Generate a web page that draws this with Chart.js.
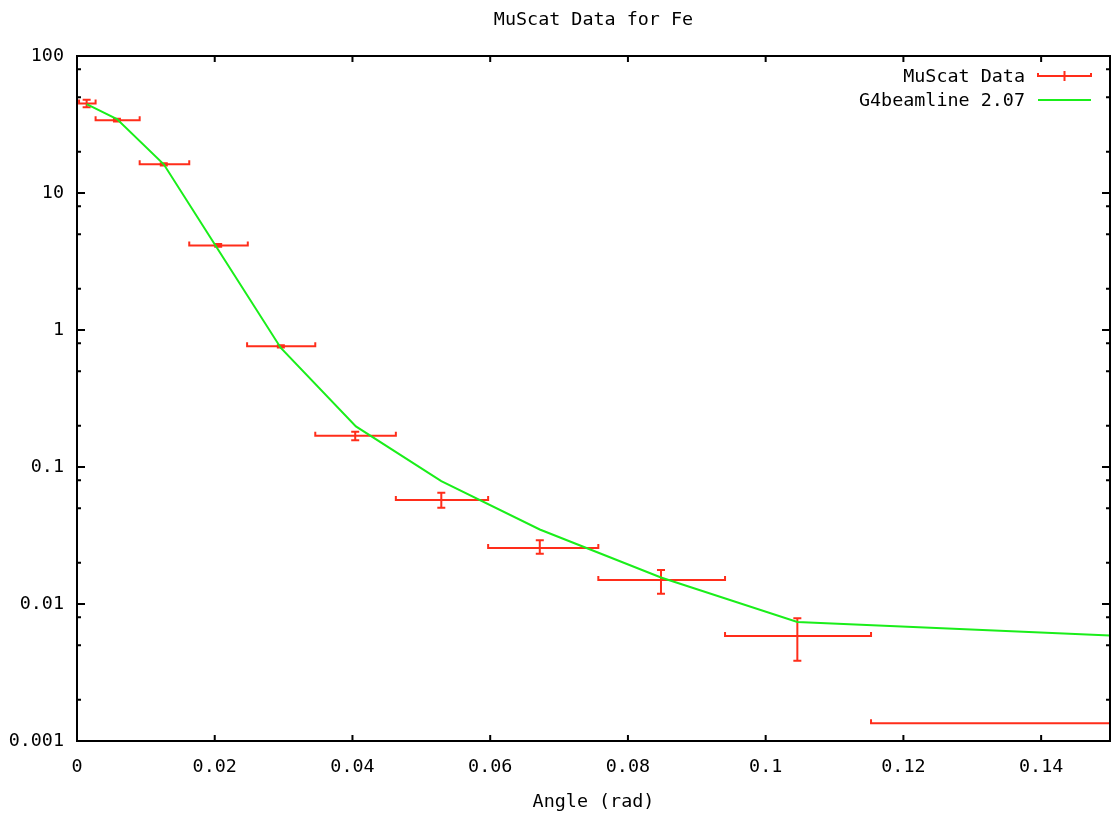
<!DOCTYPE html>
<html>
<head>
<meta charset="utf-8">
<title>MuScat Data for Fe</title>
<script src="https://cdn.jsdelivr.net/npm/chart.js@4.4.0/dist/chart.umd.min.js"></script>
<style>
  html, body { margin: 0; padding: 0; background: #fff; }
  #wrap { width: 1115px; height: 818px; }
</style>
</head>
<body>
<div id="wrap"><canvas id="muscatChart"></canvas></div>
<script>
// MuScat measurements: bin centre, bin edges, value and its error range
const muAngle     = [0.0014, 0.0058, 0.0126, 0.0205, 0.0296, 0.0404, 0.0529, 0.0672, 0.0848, 0.1046, 0.1600];
const muAngleLow  = [0.0003, 0.0027, 0.0091, 0.0163, 0.0247, 0.0346, 0.0463, 0.0597, 0.0757, 0.0941, 0.1153];
const muAngleHigh = [0.0027, 0.0091, 0.0163, 0.0248, 0.0346, 0.0463, 0.0597, 0.0757, 0.0941, 0.1153, 0.2050];
const muValue     = [45.0, 34.0, 16.2, 4.14, 0.760, 0.169, 0.0574, 0.0256, 0.0150, 0.00583, 0.00135];
const muValueLow  = [42.2, 33.2, 15.9, 4.05, 0.745, 0.157, 0.0505, 0.0233, 0.0119, 0.00385, 0.00134];
const muValueHigh = [47.9, 34.8, 16.5, 4.25, 0.775, 0.181, 0.0650, 0.0292, 0.0177, 0.00788, 0.00136];

// G4beamline 2.07 simulation
const g4Angle = [0.0014, 0.0058, 0.0126, 0.0205, 0.0296, 0.0405, 0.0529, 0.0672, 0.0848, 0.1046, 0.1500];
const g4Value = [44.5, 34.6, 16.2, 3.85, 0.74, 0.198, 0.079, 0.035, 0.0156, 0.0074, 0.0059];

const xTickValues = [0, 0.02, 0.04, 0.06, 0.08, 0.1, 0.12, 0.14];
const yTickValues = [0.001, 0.01, 0.1, 1, 10, 100];
const yTickLabels = ['0.001', '0.01', '0.1', '1', '10', '100'];
const yMinorSteps = [2, 5, 8];

const RED = '#ff2d1a';
const GREEN = '#1aee1a';
const FONT = '"DejaVu Sans Mono", "Liberation Mono", monospace';
const FONT_SIZE = 18.4;

// error bars drawn under the simulation line, clipped to the plot
const errorBars = {
    id: 'errorBars',
    beforeDatasetsDraw(chart) {
        const { ctx, chartArea: a, scales: { x, y } } = chart;
        ctx.save();
        ctx.beginPath();
        ctx.rect(a.left, a.top, a.width, a.height);
        ctx.clip();
        ctx.strokeStyle = RED;
        ctx.lineWidth = 2;
        muAngle.forEach((ang, i) => {
            const px = x.getPixelForValue(ang);
            const py = y.getPixelForValue(muValue[i]);
            const x0 = x.getPixelForValue(muAngleLow[i]);
            const x1 = x.getPixelForValue(muAngleHigh[i]);
            const y0 = y.getPixelForValue(muValueLow[i]);
            const y1 = y.getPixelForValue(muValueHigh[i]);
            ctx.beginPath();
            ctx.moveTo(x0, py); ctx.lineTo(x1, py);
            ctx.moveTo(x0, py - 4); ctx.lineTo(x0, py + 1);
            ctx.moveTo(x1, py - 4); ctx.lineTo(x1, py + 1);
            ctx.moveTo(px, y0); ctx.lineTo(px, y1);
            ctx.moveTo(px - 4, y0); ctx.lineTo(px + 4, y0);
            ctx.moveTo(px - 4, y1); ctx.lineTo(px + 4, y1);
            ctx.stroke();
        });
        ctx.restore();
    }
};

// gnuplot style frame, inward ticks on all sides, title and key
const frame = {
    id: 'frame',
    afterDraw(chart) {
        const { ctx, chartArea: a, scales: { x, y } } = chart;
        ctx.save();
        ctx.strokeStyle = '#000';
        ctx.lineWidth = 2;
        ctx.strokeRect(a.left, a.top, a.width, a.height);
        ctx.beginPath();
        xTickValues.forEach(v => {
            const px = x.getPixelForValue(v);
            ctx.moveTo(px, a.bottom); ctx.lineTo(px, a.bottom - 6);
            ctx.moveTo(px, a.top); ctx.lineTo(px, a.top + 6);
        });
        y.ticks.forEach(t => {
            const py = y.getPixelForValue(t.value);
            const len = t.major ? 8 : 4;
            ctx.moveTo(a.left, py); ctx.lineTo(a.left + len, py);
            ctx.moveTo(a.right, py); ctx.lineTo(a.right - len, py);
        });
        ctx.stroke();

        ctx.fillStyle = '#000';
        ctx.font = FONT_SIZE + 'px ' + FONT;
        ctx.textAlign = 'center';
        ctx.textBaseline = 'middle';
        ctx.fillText('MuScat Data for Fe', (a.left + a.right) / 2, 20);

        // key
        const kx0 = a.right - 72, kx1 = a.right - 19, tx = a.right - 85;
        ctx.textAlign = 'right';
        chart.data.datasets.forEach((ds, i) => {
            const ky = a.top + 20 + i * 24;
            ctx.fillStyle = '#000';
            ctx.fillText(ds.label, tx, ky + 1);
            ctx.strokeStyle = ds.borderColor;
            ctx.lineWidth = 2;
            ctx.beginPath();
            ctx.moveTo(kx0, ky); ctx.lineTo(kx1, ky);
            if (i === 0) {
                ctx.moveTo(kx0, ky - 3); ctx.lineTo(kx0, ky + 1);
                ctx.moveTo(kx1, ky - 3); ctx.lineTo(kx1, ky + 1);
                const mid = (kx0 + kx1) / 2;
                ctx.moveTo(mid, ky - 5); ctx.lineTo(mid, ky + 5);
            }
            ctx.stroke();
        });
        ctx.restore();
    }
};

new Chart(document.getElementById('muscatChart').getContext('2d'), {
    type: 'scatter',
    data: {
        datasets: [
            {
                label: 'MuScat Data',
                data: muAngle.map((a, i) => ({ x: a, y: muValue[i] })),
                borderColor: RED,
                backgroundColor: RED,
                pointRadius: 0,
                showLine: false
            },
            {
                label: 'G4beamline 2.07',
                data: g4Angle.map((a, i) => ({ x: a, y: g4Value[i] })),
                borderColor: GREEN,
                backgroundColor: GREEN,
                borderWidth: 2,
                pointRadius: 0,
                showLine: true,
                tension: 0
            }
        ]
    },
    options: {
        responsive: true,
        maintainAspectRatio: false,
        animation: false,
        layout: { padding: { top: 56, right: 5, left: 0, bottom: 0 } },
        plugins: {
            legend: { display: false },
            title: { display: false },
            tooltip: { enabled: false }
        },
        scales: {
            x: {
                type: 'linear',
                min: 0,
                max: 0.15,
                afterBuildTicks: scale => {
                    scale.ticks = xTickValues.map(v => ({ value: v }));
                },
                afterFit: scale => { scale.height = 77; },
                grid: { display: false, drawTicks: false },
                border: { display: false },
                ticks: {
                    autoSkip: false,
                    maxRotation: 0,
                    padding: 15,
                    color: '#000',
                    font: { family: FONT, size: FONT_SIZE },
                    callback: v => String(v)
                },
                title: {
                    display: true,
                    text: 'Angle (rad)',
                    color: '#000',
                    font: { family: FONT, size: FONT_SIZE },
                    padding: { top: 0, bottom: 5 }
                }
            },
            y: {
                type: 'logarithmic',
                min: 0.001,
                max: 100,
                afterBuildTicks: scale => {
                    const ticks = [];
                    yTickValues.forEach((v, i) => {
                        ticks.push({ value: v, major: true });
                        if (i < yTickValues.length - 1) {
                            yMinorSteps.forEach(s => ticks.push({ value: v * s, major: false }));
                        }
                    });
                    scale.ticks = ticks;
                },
                afterFit: scale => { scale.width = 77; },
                grid: { display: false, drawTicks: false },
                border: { display: false },
                ticks: {
                    autoSkip: false,
                    padding: 13,
                    color: '#000',
                    font: { family: FONT, size: FONT_SIZE },
                    callback: v => {
                        const i = yTickValues.findIndex(t => Math.abs(t - v) / t < 1e-9);
                        return i >= 0 ? yTickLabels[i] : '';
                    }
                }
            }
        }
    },
    plugins: [errorBars, frame]
});
</script>
</body>
</html>
